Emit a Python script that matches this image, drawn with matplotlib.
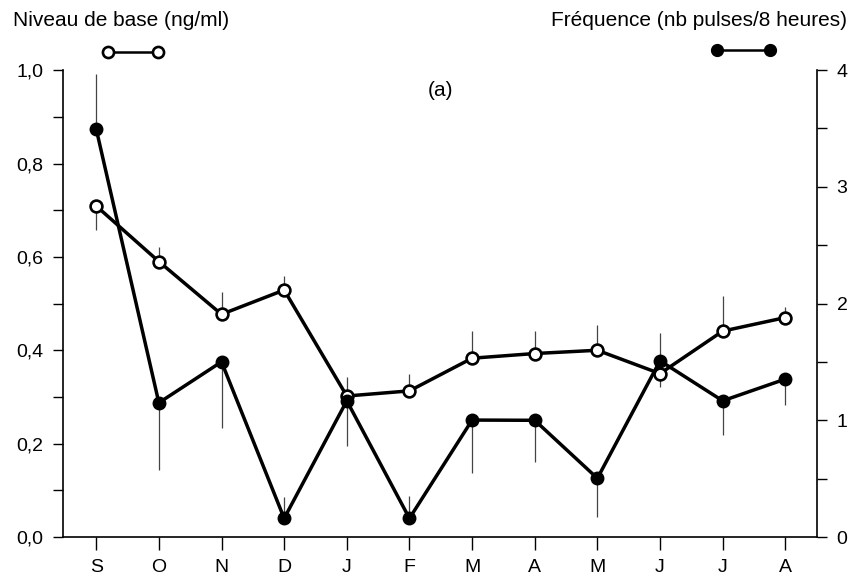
import matplotlib
matplotlib.use("Agg")
import matplotlib.pyplot as plt
from matplotlib.ticker import MultipleLocator

plt.rcParams['font.family'] = ['Liberation Sans', 'DejaVu Sans']

mois = ["S", "O", "N", "D", "J", "F", "M", "A", "M", "J", "J", "A"]

# niveau de base (ng/ml), axe de gauche
niveau = [0.709, 0.590, 0.477, 0.529, 0.302, 0.313, 0.383, 0.393, 0.400, 0.350, 0.441, 0.470]
niveau_err_bas = [0.052, 0, 0, 0, 0, 0, 0, 0, 0, 0.028, 0, 0]
niveau_err_haut = [0, 0.031, 0.048, 0.030, 0.041, 0.036, 0.058, 0.049, 0.054, 0, 0.075, 0.023]

# frequence (nb pulses/8 heures), axe de droite
freq = [3.495, 1.150, 1.501, 0.160, 1.167, 0.160, 1.002, 1.000, 0.503, 1.510, 1.167, 1.353]
freq_err_bas = [0, 0.58, 0.57, 0, 0.39, 0, 0.45, 0.355, 0.33, 0, 0.29, 0.22]
freq_err_haut = [0.47, 0, 0, 0.185, 0, 0.19, 0, 0, 0, 0.235, 0, 0]

x = list(range(len(mois)))

fig = plt.figure(figsize=(8.61, 5.80), dpi=100)
ax = fig.add_axes([0.0732, 0.0741, 0.876, 0.805])
ax2 = ax.twinx()

# barres d'erreur (fines)
ax.errorbar(x, niveau, yerr=[niveau_err_bas, niveau_err_haut], fmt='none',
            ecolor='#444444', elinewidth=0.9, capsize=0, zorder=1)
ax2.errorbar(x, freq, yerr=[freq_err_bas, freq_err_haut], fmt='none',
             ecolor='#444444', elinewidth=0.9, capsize=0, zorder=1)

ax.plot(x, niveau, '-o', color='black', lw=2.5, ms=8.5, mfc='white',
        mec='black', mew=1.9, zorder=3)
ax2.plot(x, freq, '-o', color='black', lw=2.5, ms=9, mfc='black',
         mec='black', zorder=3)

ax.set_xlim(-0.53, 11.51)
ax.set_ylim(0, 1.0)
ax2.set_ylim(0, 4)

ax.set_xticks(x)
ax.set_xticklabels(mois)
ax.yaxis.set_minor_locator(MultipleLocator(0.1))
ax.set_yticks([0, 0.2, 0.4, 0.6, 0.8, 1.0])
ax.set_yticklabels(["0,0", "0,2", "0,4", "0,6", "0,8", "1,0"])
ax2.set_yticks([0, 1, 2, 3, 4])
ax2.yaxis.set_minor_locator(MultipleLocator(0.5))

for a in (ax, ax2):
    a.spines['top'].set_visible(False)
    a.tick_params(which='both', direction='out', length=7, width=1.0,
                  labelsize=14, pad=7)
ax.spines['right'].set_visible(False)
ax2.spines['left'].set_visible(False)
ax2.spines['bottom'].set_visible(False)
ax.spines['left'].set_linewidth(1.2)
ax.spines['bottom'].set_linewidth(1.2)
ax2.spines['right'].set_linewidth(1.2)
ax.tick_params(axis='x', length=9, pad=7)

# titres des axes et legendes
fig.text(0.015, 0.965, "Niveau de base (ng/ml)", fontsize=15, va='center', ha='left')
fig.text(0.984, 0.965, "Fréquence (nb pulses/8 heures)", fontsize=15, va='center', ha='right')
fig.lines.append(plt.Line2D([108 / 861, 158 / 861], [1 - 52 / 580] * 2, transform=fig.transFigure,
                            color='black', lw=1.8, marker='o', ms=8, mfc='white', mew=1.9))
fig.lines.append(plt.Line2D([717 / 861, 770 / 861], [1 - 50 / 580] * 2, transform=fig.transFigure,
                            color='black', lw=1.8, marker='o', ms=8.5, mfc='black'))

ax.text(5.5, 0.957, "(a)", fontsize=15, ha='center', va='center')

fig.savefig("out.png", dpi=100)
